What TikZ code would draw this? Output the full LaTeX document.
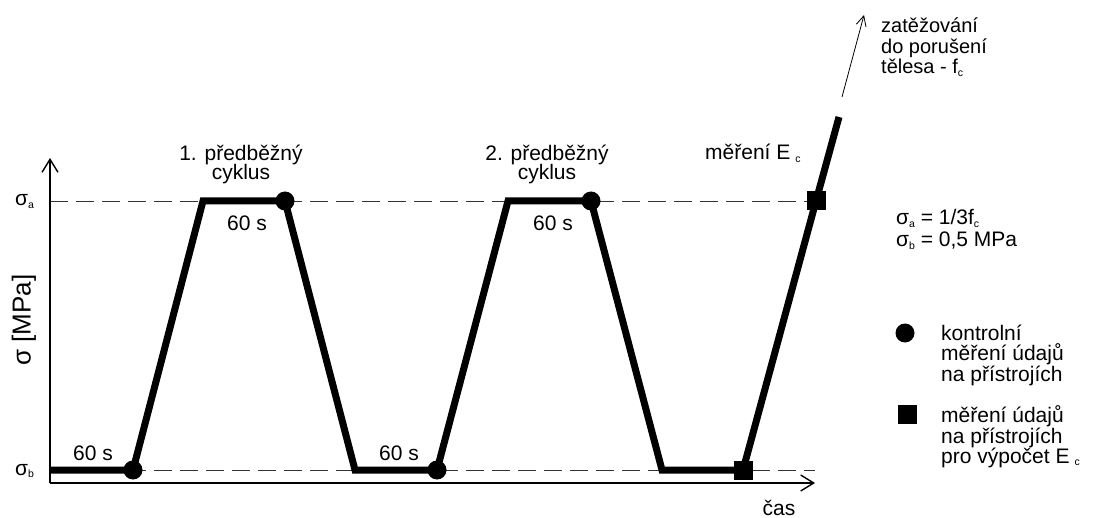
\documentclass[tikz,border=0pt]{standalone}
\usepackage{fontspec}
\setmainfont{Liberation Sans}
\usetikzlibrary{arrows.meta}
\newcommand\lowsub[1]{\raisebox{-0.2ex}{\fontsize{10.5}{10.5}\selectfont #1}}
\begin{document}
\begin{tikzpicture}[x=1pt,y=-1pt,
  lbl/.style={inner sep=0pt, font=\fontsize{21}{21}\selectfont},
  smlbl/.style={inner sep=0pt, font=\fontsize{20}{20}\selectfont},
  axisline/.style={line width=1.6pt, -{Straight Barb[length=13pt,width=16pt,line width=1.4pt]}},
  dashline/.style={line width=0.9pt, black!80, dash pattern=on 18pt off 8pt},
  loadline/.style={line width=7pt, line join=miter},
  thinarrow/.style={line width=0.8pt, -{Straight Barb[length=10pt,width=10pt,line width=0.8pt]}},
  dotmark/.style={circle, fill=black, inner sep=0pt, minimum size=19pt},
  sqmark/.style={rectangle, fill=black, inner sep=0pt, minimum size=19pt}]
\useasboundingbox (0,0) rectangle (1094,518);

% axes
\coordinate (o) at (50,483);
\coordinate (ytop) at (50,158);
\coordinate (xend) at (815,483);
\coordinate (da0) at (50,201);
\coordinate (da1) at (815,201);
\coordinate (db0) at (50,470);
\coordinate (db1) at (815,470);

\draw[dashline] (da0) -- (da1);
\draw[dashline] (db0) -- (db1);
\draw[axisline] (o) -- (ytop);
\draw[axisline] (o) -- (xend);

% loading path
\coordinate (p0) at (50,470);
\coordinate (m1) at (133,470);
\coordinate (p2) at (203,201);
\coordinate (m2) at (285,201);
\coordinate (p4) at (355,470);
\coordinate (m3) at (437,470);
\coordinate (p6) at (508,201);
\coordinate (m4) at (591,201);
\coordinate (p8) at (662,470);
\coordinate (s1) at (743,470);
\coordinate (s2) at (816,201);
\coordinate (pend) at (839,117);

\draw[loadline] (p0) -- (m1) -- (p2) -- (m2) -- (p4) -- (m3) -- (p6) -- (m4) -- (p8) -- (s1) -- (s2) -- (pend);

\node[dotmark] (c1) at (m1) {};
\node[dotmark] (c2) at (m2) {};
\node[dotmark] (c3) at (m3) {};
\node[dotmark] (c4) at (m4) {};
\node[sqmark] (q1) at (s1) {};
\node[sqmark] (q2) at (s2) {};

% failure arrow
\coordinate (fa0) at (842,97);
\coordinate (fa1) at (864,15);
\draw[thinarrow] (fa0) -- (fa1);

% axis labels
\node[lbl, anchor=base west] (sa) at (15,206) {σ\lowsub{a}};
\node[lbl, anchor=base west] (sb) at (15,475) {σ\lowsub{b}};
\node[inner sep=0pt, font=\fontsize{26}{26}\selectfont, rotate=90] (ylab) at (24,320) {σ [MPa]};
\node[lbl, anchor=base] (cas) at (779,515) {čas};

% segment labels
\node[lbl, anchor=base] (t1) at (93,460) {60 s};
\node[lbl, anchor=base] (t2) at (247,231) {60 s};
\node[lbl, anchor=base] (t3) at (399,460) {60 s};
\node[lbl, anchor=base] (t4) at (553,231) {60 s};

\node[lbl, anchor=base] (cy1a) at (241,161) {1. předběžný};
\node[lbl, anchor=base] (cy1b) at (241,180) {cyklus};
\node[lbl, anchor=base] (cy2a) at (547,161) {2. předběžný};
\node[lbl, anchor=base] (cy2b) at (547,180) {cyklus};

\node[lbl, anchor=base west] (mec) at (705,160) {měření E\hspace{5pt}\lowsub{c}};

% failure text
\node[smlbl, anchor=base west] (fl1) at (881,33) {zatěžování};
\node[smlbl, anchor=base west] (fl2) at (881,53.5) {do porušení};
\node[smlbl, anchor=base west] (fl3) at (881,74) {tělesa - f\lowsub{c}};

% definitions
\node[lbl, anchor=base west] (def1) at (896,225) {σ\lowsub{a} = 1/3f\lowsub{c}};
\node[lbl, anchor=base west] (def2) at (896,247) {σ\lowsub{b} = 0,5 MPa};

% legend
\node[dotmark] (lg1) at (905,333) {};
\node[lbl, anchor=base west] (lg1a) at (941,340) {kontrolní};
\node[lbl, anchor=base west] (lg1b) at (941,360.5) {měření údajů};
\node[lbl, anchor=base west] (lg1c) at (941,381) {na přístrojích};

\node[sqmark] (lg2) at (907,414) {};
\node[lbl, anchor=base west] (lg2a) at (941,422.5) {měření údajů};
\node[lbl, anchor=base west] (lg2b) at (941,443) {na přístrojích};
\node[lbl, anchor=base west] (lg2c) at (941,463.5) {pro výpočet E\hspace{5pt}\lowsub{c}};
\end{tikzpicture}
\end{document}
